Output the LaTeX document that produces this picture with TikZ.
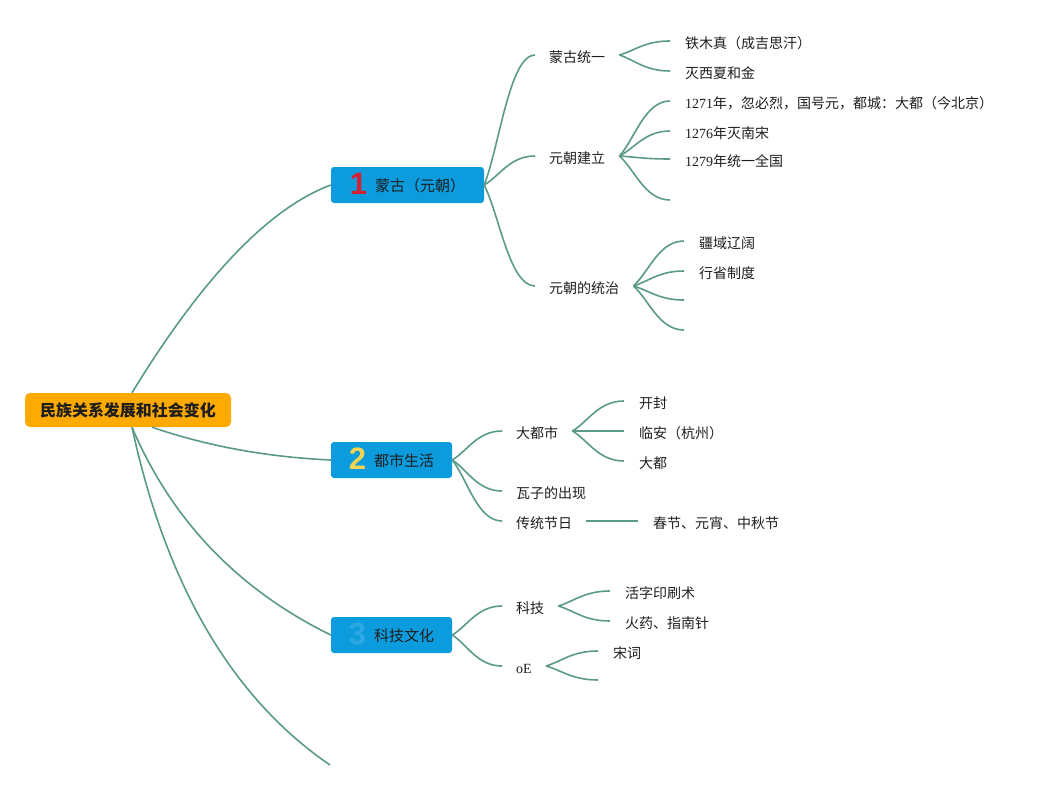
\documentclass[tikz,border=0pt]{standalone}
\usepackage{fontspec}
\setmainfont{Noto Sans CJK SC}
\newfontfamily\latfont{Liberation Serif}
\newfontfamily\iconfont{Liberation Sans}
\usetikzlibrary{calc}
\definecolor{conncol}{RGB}{90,154,135}
\definecolor{boxblue}{RGB}{12,155,220}
\definecolor{rootorange}{RGB}{255,170,0}
\definecolor{ink}{HTML}{1E1E1E}
\definecolor{iconred}{RGB}{212,32,48}
\definecolor{iconyellow}{RGB}{244,212,80}
\definecolor{iconblue}{RGB}{45,168,228}
\newcommand\numicon[2]{\raisebox{-3pt}{\iconfont\bfseries\fontsize{31}{31}\selectfont\color{#1}#2}}
\newcommand\latn[1]{{\latfont #1}}
\begin{document}
\begin{tikzpicture}[x=1pt,y=-1pt,
 conn/.style={draw=conncol,line width=1.6pt},
 kid/.style={to path={.. controls ($(\tikztostart)!0.3!(\tikztotarget)$) and ($(\tikztotarget)!0.5!(\tikztostart|-\tikztotarget)$) .. (\tikztotarget)}},
 rootbox/.style={fill=rootorange,rounded corners=5pt,minimum width=206pt,minimum height=34pt,inner sep=0pt,text=ink,font=\fontsize{16}{16}\selectfont\bfseries},
 branchbox/.style={fill=boxblue,rounded corners=3pt,minimum height=36pt,inner sep=0pt,text height=13pt,text depth=0pt,text=ink,font=\fontsize{15}{15}\selectfont},
 midtext/.style={anchor=west,inner xsep=14pt,inner ysep=0pt,text height=14pt,text depth=0pt,text=ink,font=\fontsize{14}{14}\selectfont},
 leaftext/.style={midtext,inner xsep=15pt}]
\fill[white] (0,0) rectangle (1053,790);
\useasboundingbox (0,0) rectangle (1053,790);

% root and branches
\node[rootbox] (root) at (128,410) {民族关系发展和社会变化};
\node[branchbox,minimum width=153pt] (b1) at (407.5,185) {\numicon{iconred}{1}\hspace{8pt}蒙古（元朝）};
\node[branchbox,minimum width=121pt] (b2) at (391.5,460) {\numicon{iconyellow}{2}\hspace{8pt}都市生活};
\node[branchbox,minimum width=121pt] (b3) at (391.5,635) {\numicon{iconblue}{3}\hspace{8pt}科技文化};
\coordinate (b4) at (330,765);

\draw[conn] ($(root.north)+(4,0)$) .. controls (202,278) and (269,208) .. (b1.west);
\draw[conn] ($(root.south)+(24,0)$) .. controls (207,446) and (266,457) .. (b2.west);
\draw[conn] ($(root.south)+(4,0)$) .. controls (171,519) and (237,589) .. (b3.west);
\draw[conn] ($(root.south)+(4,0)$) .. controls (166,585) and (232,698) .. (b4);

% branch 1
\node[midtext] (k11) at (535,55) {蒙古统一};
\node[midtext] (k12) at (535,156) {元朝建立};
\node[midtext] (k13) at (535,286) {元朝的统治};
\draw[conn] (b1.east) to[kid] (k11.west);
\draw[conn] (b1.east) to[kid] (k12.west);
\draw[conn] (b1.east) to[kid] (k13.west);

\node[leaftext] (l111) at (670,41) {铁木真（成吉思汗）};
\node[leaftext] (l112) at (670,71) {灭西夏和金};
\draw[conn] (k11.east) to[kid] (l111.west);
\draw[conn] (k11.east) to[kid] (l112.west);

\node[leaftext] (l121) at (670,101) {\latn{1271}年，忽必烈，国号元，都城：大都（今北京）};
\node[leaftext] (l122) at (670,131) {\latn{1276}年灭南宋};
\node[leaftext] (l123) at (670,159) {\latn{1279}年统一全国};
\coordinate (e124) at (670,200);
\draw[conn] (k12.east) to[kid] (l121.west);
\draw[conn] (k12.east) to[kid] (l122.west);
\draw[conn] (k12.east) to[kid] (l123.west);
\draw[conn] (k12.east) to[kid] (e124);

\node[leaftext] (l131) at (684,241) {疆域辽阔};
\node[leaftext] (l132) at (684,271) {行省制度};
\coordinate (e133) at (684,300);
\coordinate (e134) at (684,330);
\draw[conn] (k13.east) to[kid] (l131.west);
\draw[conn] (k13.east) to[kid] (l132.west);
\draw[conn] (k13.east) to[kid] (e133);
\draw[conn] (k13.east) to[kid] (e134);

% branch 2
\node[midtext] (k21) at (502,431) {大都市};
\node[midtext] (k22) at (502,491) {瓦子的出现};
\node[midtext] (k23) at (502,521) {传统节日};
\draw[conn] (b2.east) to[kid] (k21.west);
\draw[conn] (b2.east) to[kid] (k22.west);
\draw[conn] (b2.east) to[kid] (k23.west);

\node[leaftext] (l211) at (624,401) {开封};
\node[leaftext] (l212) at (624,431) {临安（杭州）};
\node[leaftext] (l213) at (624,461) {大都};
\draw[conn] (k21.east) to[kid] (l211.west);
\draw[conn] (k21.east) to[kid] (l212.west);
\draw[conn] (k21.east) to[kid] (l213.west);

\node[leaftext] (l231) at (638,521) {春节、元宵、中秋节};
\draw[conn] (k23.east) -- (l231.west);

% branch 3
\node[midtext] (k31) at (502,606) {科技};
\node[midtext] (k32) at (502,666) {\latn{oE}};
\draw[conn] (b3.east) to[kid] (k31.west);
\draw[conn] (b3.east) to[kid] (k32.west);

\node[leaftext] (l311) at (610,591) {活字印刷术};
\node[leaftext] (l312) at (610,621) {火药、指南针};
\draw[conn] (k31.east) to[kid] (l311.west);
\draw[conn] (k31.east) to[kid] (l312.west);

\node[leaftext] (l321) at (598,651) {宋词};
\coordinate (e322) at (598,680);
\draw[conn] (k32.east) to[kid] (l321.west);
\draw[conn] (k32.east) to[kid] (e322);
\end{tikzpicture}
\end{document}
